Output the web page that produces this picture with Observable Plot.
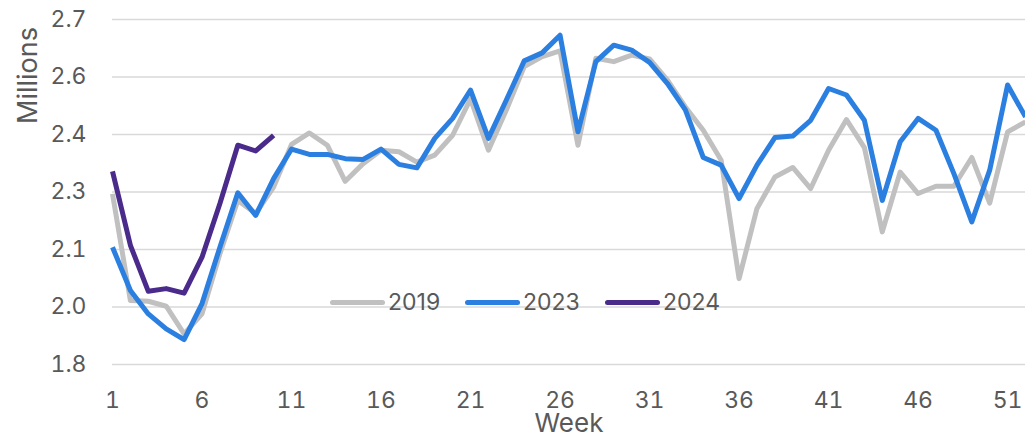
<!DOCTYPE html>
<html>
<head>
<meta charset="utf-8">
<script src="https://cdn.jsdelivr.net/npm/d3@7"></script>
<script src="https://cdn.jsdelivr.net/npm/@observablehq/plot@0.6"></script>
<style>
  html, body { margin: 0; padding: 0; background: #fff; }
  #wrap { position: relative; width: 1025px; height: 437px; font-family: Inter, "Open Sans", sans-serif; color: #595959; }
  .lg { position: absolute; top: 287px; height: 30px; display: flex; align-items: center; font-size: 23px; color: #595959; }
  .lg .sw { display: inline-block; width: 55px; height: 5px; border-radius: 3px; margin-right: 3px; }
</style>
</head>
<body>
<div id="wrap"></div>
<script>
const weeks = [1,2,3,4,5,6,7,8,9,10,11,12,13,14,15,16,17,18,19,20,21,22,23,24,25,26,27,28,29,30,31,32,33,34,35,36,37,38,39,40,41,42,43,44,45,46,47,48,49,50,51,52];
const series = ["2019", "2023", "2024"];
const colors = ["#c0c0c0", "#2a7fe0", "#4a2a8a"];
const v2019 = [2.245,1.967,1.965,1.952,1.880,1.932,2.089,2.228,2.194,2.263,2.374,2.404,2.372,2.278,2.324,2.359,2.355,2.328,2.346,2.398,2.493,2.359,2.464,2.577,2.603,2.618,2.372,2.599,2.590,2.607,2.597,2.542,2.472,2.411,2.333,2.024,2.207,2.289,2.314,2.259,2.359,2.439,2.366,2.146,2.302,2.246,2.265,2.265,2.340,2.221,2.407,2.433];
const v2023 = [2.106,1.993,1.932,1.893,1.865,1.959,2.106,2.248,2.189,2.285,2.362,2.348,2.348,2.337,2.335,2.362,2.322,2.313,2.390,2.442,2.516,2.390,2.490,2.592,2.613,2.659,2.407,2.590,2.633,2.620,2.588,2.533,2.464,2.340,2.320,2.233,2.320,2.392,2.396,2.437,2.520,2.503,2.437,2.228,2.381,2.442,2.411,2.298,2.172,2.307,2.529,2.446];
const v2024 = [2.304,2.111,1.991,1.998,1.986,2.080,2.220,2.372,2.357,2.398];
const xTicks = [1,6,11,16,21,26,31,36,41,46,51];
const yTickValues = [1.8,1.95,2.1,2.25,2.4,2.55,2.7];
const yTickLabels = ["1.8","2.0","2.1","2.3","2.4","2.6","2.7"];
const yLabel = "Millions";
const xLabel = "Week";

const valueSets = [v2019, v2023, v2024];
const rows = [];
valueSets.forEach((vals, si) => vals.forEach((v, i) => rows.push({week: weeks[i], value: v, series: series[si]})));

const chart = Plot.plot({
  width: 1025,
  height: 437,
  marginLeft: 112,
  marginRight: 0,
  marginTop: 19,
  marginBottom: 73,
  style: {fontFamily: "Inter, 'Open Sans', sans-serif", fontSize: "23px", color: "#595959", background: "#fff"},
  x: {domain: [1, 52]},
  y: {domain: [1.8, 2.7]},
  color: {domain: series, range: colors},
  marks: [
    Plot.ruleY(yTickValues, {stroke: "#d9d9d9", strokeWidth: 1.6}),
    Plot.axisY({ticks: yTickValues, tickSize: 0, tickPadding: 26, tickFormat: (d) => yTickLabels[yTickValues.indexOf(d)], label: null, fill: "#595959"}),
    Plot.axisX({ticks: xTicks, tickSize: 0, tickPadding: 27, tickFormat: d => String(d), label: null, fill: "#595959"}),
    Plot.text([yLabel], {frameAnchor: "top-left", textAnchor: "middle", lineAnchor: "middle", rotate: -90, dx: -84, dy: 56, fill: "#595959", fontSize: 27}),
    Plot.text([xLabel], {frameAnchor: "bottom", textAnchor: "middle", lineAnchor: "middle", dy: 59, fill: "#595959", fontSize: 26}),
    Plot.line(rows, {x: "week", y: "value", z: "series", stroke: "series", strokeWidth: 5, strokeLinejoin: "round", strokeLinecap: "butt"})
  ]
});

const wrap = document.getElementById("wrap");
wrap.appendChild(chart);
const legendLefts = [330, 465, 605];
series.forEach((s, i) => {
  const d = document.createElement("div");
  d.className = "lg";
  d.style.left = legendLefts[i] + "px";
  const sw = document.createElement("span");
  sw.className = "sw";
  sw.style.background = colors[i];
  const t = document.createElement("span");
  t.textContent = s;
  d.appendChild(sw);
  d.appendChild(t);
  wrap.appendChild(d);
});
</script>
</body>
</html>
